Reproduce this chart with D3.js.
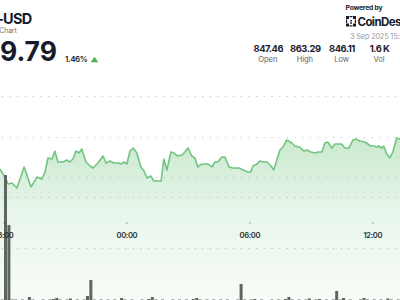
<!DOCTYPE html>
<html><head><meta charset="utf-8">
<script src="https://cdn.jsdelivr.net/npm/d3@7"></script>
<style>html,body{margin:0;padding:0;background:#fff;overflow:hidden}svg{display:block}</style>
</head><body>
<svg id="c" width="400" height="300"></svg>
<script>
// ---- data ----
const symbol = "BNB-USD";
const subtitle = "BNB Chart";
const lastPrice = "849.79";
const changePct = "1.46%";
const statValues = ["847.46", "863.29", "846.11", "1.6 K"];
const statLabels = ["Open", "High", "Low", "Vol"];
const stamp = "3 Sep 2025 15:32";
const xTickLabels = ["18:00", "00:00", "06:00", "12:00"];

const priceTimes = ["17:48","18:03","18:12","18:23","18:38","18:59","19:19","19:37","19:51","20:00","20:09","20:21","20:29","20:38","20:53","21:04","21:13","21:22","21:31","21:40","21:48","22:00","22:12","22:21","22:35","22:50","22:59","23:10","23:22","23:34","23:43","23:51","00:00","00:09","00:18","00:29","00:41","00:50","00:59","01:10","01:19","01:40","01:48","01:57","02:09","02:18","02:29","02:41","02:50","02:59","03:10","03:19","03:28","03:34","03:43","03:57","04:09","04:18","04:26","04:38","04:47","04:59","05:10","05:28","05:40","05:54","06:03","06:09","06:21","06:29","06:41","06:50","07:02","07:10","07:28","07:37","07:48","08:03","08:12","08:26","08:38","08:47","08:59","09:10","09:19","09:31","09:40","09:48","10:00","10:09","10:29","10:38","10:50","11:02","11:10","11:22","11:37","11:54","12:03","12:12","12:18","12:27","12:32","12:41","12:50","12:59","13:10","13:19","13:30"];
const priceValues = [846.05,845.06,844.20,844.32,843.70,846.30,843.83,845.06,844.81,845.68,847.41,847.28,848.27,846.91,846.91,847.16,846.91,847.28,848.27,848.02,848.52,846.91,846.42,846.17,846.79,847.65,846.79,847.04,846.79,846.79,846.67,846.91,846.67,848.27,848.64,848.02,846.30,845.80,844.94,845.19,844.57,844.57,847.28,845.93,848.15,848.02,847.65,847.78,848.15,848.64,847.65,847.41,846.30,846.54,846.67,846.67,846.30,846.91,846.91,847.53,847.53,846.30,846.17,846.17,845.93,845.68,845.68,846.42,846.67,847.04,846.91,846.91,846.42,845.93,848.40,848.77,849.63,849.26,848.89,848.77,848.27,848.40,848.15,848.02,848.15,848.15,849.26,849.38,848.64,849.14,849.14,848.64,848.64,849.63,849.75,849.51,849.38,848.89,848.89,848.77,848.89,848.64,848.89,847.90,847.41,848.15,849.88,849.75,849.70];

const volStart = "17:50";
const volumes = [1.5,126,76,1.5,1.5,1,1.5,1,4,1.5,1,1,1.5,1,1.5,2,3,1.5,1,1.5,2.5,1,1.5,1,1.5,5,21,1.5,1,1.5,1,1.5,1,1.5,1,3,1.5,1,1.5,1,1,1.5,1,2,4,1.5,1,1.5,1,1,1.5,1,1.5,1,1.5,1,2,3,1.5,1,1.5,1,1.5,1,1.5,1,1.5,1,1,1.5,17,1.5,1,1.5,2,1,1.5,1,1,1.5,1,1.5,1,2,4,1.5,1,1.5,1,1.5,2.5,1,1.5,2,1,1.5,1,1.5,10,1.5,3,1,1.5,1,1,1.5,3,1.5,1,1.5,1,1.5,1,2.5,1.5,1,1.5,1];

// ---- helpers ----
function toDates(arr) {
  let day = 2, prev = -1;
  return arr.map(s => {
    const [h, m] = s.split(":").map(Number);
    if (prev >= 0 && h < prev) day += 1;
    prev = h;
    return new Date(2025, 8, day, h, m);
  });
}
const pDates = toDates(priceTimes);
const priceData = pDates.map((d, i) => ({t: d, v: priceValues[i]}));
const v0 = toDates([volStart])[0];
const volData = volumes.map((v, i) => ({t: d3.timeMinute.offset(v0, 10 * i), v}));

const svg = d3.select("#c");
const x = d3.scaleTime()
  .domain([new Date(2025, 8, 2, 18, 0), new Date(2025, 8, 3, 12, 0)])
  .range([4, 372.75]);
const y = d3.scaleLinear().domain([845, 855]).range([177.5, 96.5]);
const yv = d3.scaleLinear().domain([0, 126]).range([301, 175]);

// gradient
const defs = svg.append("defs");
const g = defs.append("linearGradient").attr("id", "ag")
  .attr("gradientUnits", "userSpaceOnUse").attr("x1", 0).attr("x2", 0).attr("y1", 135).attr("y2", 300);
g.append("stop").attr("offset", 0).attr("stop-color", "#6cc27a").attr("stop-opacity", 0.38);
g.append("stop").attr("offset", 0.45).attr("stop-color", "#6cc27a").attr("stop-opacity", 0.16);
g.append("stop").attr("offset", 1).attr("stop-color", "#6cc27a").attr("stop-opacity", 0.05);

// grid lines
const gridY = [96.5, 137.5, 177.5, 197.5, 248.5];
svg.append("g").selectAll("line").data(gridY).join("line")
  .attr("x1", 2).attr("x2", 400).attr("y1", d => d).attr("y2", d => d)
  .attr("stroke", "#bdbdbd").attr("stroke-width", 1).attr("stroke-dasharray", "1,6.7");

// area + line
svg.append("path").datum(priceData)
  .attr("d", d3.area().x(d => x(d.t)).y0(310).y1(d => y(d.v)))
  .attr("fill", "url(#ag)");
svg.append("path").datum(priceData)
  .attr("d", d3.line().x(d => x(d.t)).y(d => y(d.v)))
  .attr("fill", "none").attr("stroke", "#72c480").attr("stroke-width", 1.6)
  .attr("stroke-linejoin", "round");

// volume bars
svg.append("g").selectAll("rect").data(volData).join("rect")
  .attr("x", d => x(d.t)).attr("width", 3)
  .attr("y", d => yv(d.v)).attr("height", d => 301 - yv(d.v))
  .attr("fill", "#5d6760");

// x axis ticks & labels
const F = "Inter, 'Open Sans', sans-serif";
const tickDates = xTickLabels.map((s, i) => new Date(2025, 8, i === 0 ? 2 : 3, +s.slice(0, 2), 0));
const ax = svg.append("g");
ax.selectAll("rect").data(tickDates).join("rect")
  .attr("x", d => x(d) - 0.5).attr("y", 222.5).attr("width", 1).attr("height", 1).attr("fill", "#555");
ax.selectAll("text").data(tickDates).join("text")
  .attr("x", d => x(d)).attr("y", 237.5).attr("text-anchor", "middle")
  .attr("font-family", F).attr("font-size", 7.6).attr("font-weight", 600).attr("letter-spacing", -0.35)
  .attr("fill", "#2b2f38").text((d, i) => xTickLabels[i]);

// header
svg.append("text").attr("x", 31.5).attr("y", 24).attr("text-anchor", "end")
  .attr("font-family", F).attr("font-size", 14.5).attr("font-weight", 700).attr("letter-spacing", -0.7)
  .attr("fill", "#161b2c").text(symbol);
svg.append("text").attr("x", 16.5).attr("y", 33).attr("text-anchor", "end")
  .attr("font-family", F).attr("font-size", 7).attr("letter-spacing", -0.2).attr("fill", "#777").text(subtitle);
svg.append("text").attr("x", 57).attr("y", 61).attr("text-anchor", "end")
  .attr("font-family", F).attr("font-size", 26.5).attr("font-weight", 700).attr("fill", "#161b2c").text(lastPrice);
svg.append("text").attr("x", 65).attr("y", 62).attr("font-family", F).attr("font-size", 8)
  .attr("font-weight", 600).attr("fill", "#222").attr("letter-spacing", -0.4).text(changePct);
svg.append("path").attr("d", "M90.7,62.3 L94.5,56.8 L98.3,62.3 Z").attr("fill", "#4caf50");

// powered by
svg.append("text").attr("x", 345.5).attr("y", 10).attr("font-family", F).attr("font-size", 6.8)
  .attr("font-weight", 700).attr("letter-spacing", -0.2).attr("fill", "#222").text("Powered by");
const logo = svg.append("g").attr("fill", "#151a28");
[[346,16,3,3],[349.5,16,3,1.2],[353,16,3,3],[346,19.5,1.2,3.5],[346,23.5,3,3],[349.5,25.3,3,1.2],[353,23.5,3,3],[354.8,19.5,1.2,3.5],[350.3,20,1.6,1.6],[350.3,22.3,1.6,1.6]]
  .forEach(r => logo.append("rect").attr("x", r[0]).attr("y", r[1]).attr("width", r[2]).attr("height", r[3]));
svg.append("text").attr("x", 357.5).attr("y", 26).attr("font-family", F).attr("font-size", 11.5)
  .attr("font-weight", 700).attr("letter-spacing", -0.6).attr("fill", "#151a28").text("CoinDesk");
svg.append("text").attr("x", 350).attr("y", 38.5).attr("font-family", F).attr("font-size", 7.4)
  .attr("letter-spacing", -0.2).attr("fill", "#9a9a9a").text(stamp);

const statX = [268.3, 305.3, 342, 379.5];
svg.append("g").selectAll("text").data(statValues).join("text")
  .attr("x", (d, i) => statX[i]).attr("y", 51.5).attr("text-anchor", "middle")
  .attr("font-family", F).attr("font-size", 9.4).attr("font-weight", 700).attr("letter-spacing", -0.45)
  .attr("fill", "#1b2030").text(d => d);
svg.append("g").selectAll("text").data(statLabels).join("text")
  .attr("x", (d, i) => statX[i] - 0.5).attr("y", 61.5).attr("text-anchor", "middle")
  .attr("font-family", F).attr("font-size", 7.6).attr("letter-spacing", -0.1).attr("fill", "#666").text(d => d);
</script>
</body></html>
